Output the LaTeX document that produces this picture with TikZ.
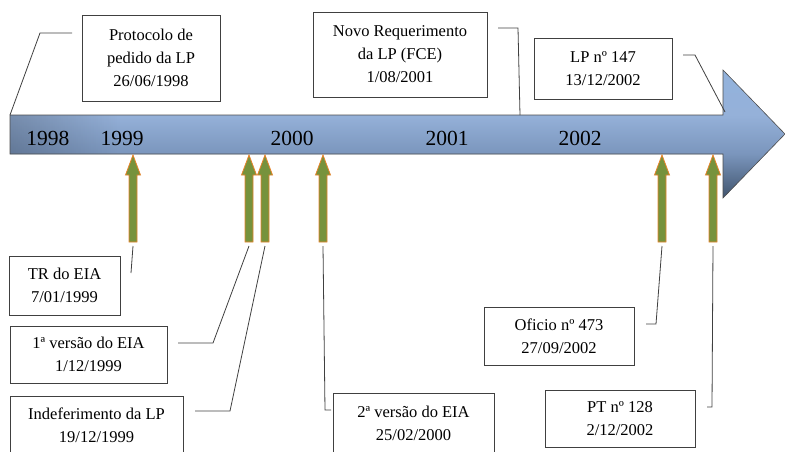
\documentclass[tikz,border=0pt]{standalone}
\usepackage{fontspec}
\setmainfont{Liberation Serif}
\usetikzlibrary{fadings}
\tikzfading[name=leftdark, left color=transparent!80, right color=transparent!100]
\begin{document}
\begin{tikzpicture}[x=1pt,y=-1pt,
  infobox/.style={draw=black!75,line width=0.9pt,fill=white,align=center,
    inner sep=0pt,font=\fontsize{16.5}{23}\selectfont},
  yearlabel/.style={anchor=base,font=\fontsize{21.5}{24}\selectfont,text=black},
  leader/.style={draw=black!75,line width=0.8pt},
  marker/.style={fill=mgreen,draw=morange,line width=0.8pt,line join=miter}]
\definecolor{mgreen}{HTML}{76923C}
\definecolor{morange}{HTML}{E8832A}
\definecolor{ca}{HTML}{92B2DC}
\definecolor{cb}{HTML}{95B1D9}
\definecolor{cc}{HTML}{7A95BC}
\definecolor{cd}{HTML}{3F536C}
\useasboundingbox (0,0) rectangle (785,451);

% main time arrow: banded vertical gradient clipped to the arrow outline
\def\arrowshape{(10,115) -- (723,115) -- (723,70) -- (785,134) -- (723,198) -- (723,154) -- (10,154) -- cycle}
\begin{scope}
  \clip \arrowshape;
  \shade[top color=ca,bottom color=cb] (0,69) rectangle (786,115.5);
  \shade[top color=cb,bottom color=cc] (0,115) rectangle (786,154.5);
  \shade[top color=cc,bottom color=cd] (0,154) rectangle (786,199);
  \fill[black,path fading=leftdark] (10,115) rectangle (120,154);
\end{scope}
\draw[black!70,line width=0.6pt,line join=miter] \arrowshape;

% years along the arrow
\node[yearlabel] (y1998) at (48,145) {1998};
\node[yearlabel] (y1999) at (122,145) {1999};
\node[yearlabel] (y2000) at (292,145) {2000};
\node[yearlabel] (y2001) at (447,145) {2001};
\node[yearlabel] (y2002) at (580,145) {2002};

% event markers below the arrow
\foreach \x/\n in {133/g1,249/g2,265/g3,323/g4,662/g5,713/g6}{
  \path[marker] (\x,155) -- (\x+7.5,175) -- (\x+4,175) -- (\x+4,242)
    -- (\x-4,242) -- (\x-4,175) -- (\x-7.5,175) -- cycle;
  \coordinate (\n) at (\x,246);
}

% event boxes
\node[infobox,minimum width=138,minimum height=86] (b1) at (151,58)
  {Protocolo de\\pedido da LP\\26/06/1998};
\node[infobox,minimum width=174,minimum height=85] (b2) at (400,54.5)
  {Novo Requerimento\\da LP (FCE)\\1/08/2001};
\node[infobox,minimum width=138,minimum height=61] (b3) at (603,68.5)
  {LP nº 147\\13/12/2002};
\node[infobox,minimum width=111,minimum height=59] (b4) at (64.5,285.5)
  {TR do EIA\\7/01/1999};
\node[infobox,minimum width=157,minimum height=57] (b5) at (88.5,354.5)
  {1ª versão do EIA\\1/12/1999};
\node[infobox,minimum width=173,minimum height=59] (b6) at (96.5,425.5)
  {Indeferimento da LP\\19/12/1999};
\node[infobox,minimum width=161,minimum height=60] (b7) at (413.5,423)
  {2ª versão do EIA\\25/02/2000};
\node[infobox,minimum width=150,minimum height=58] (b8) at (559,336)
  {Oficio nº 473\\27/09/2002};
\node[infobox,minimum width=150,minimum height=57] (b9) at (620,418.5)
  {PT nº 128\\2/12/2002};

% leader lines
\coordinate (l1a) at (72,33);   \coordinate (l1b) at (40,33);   \coordinate (l1c) at (10,115);
\coordinate (l2a) at (498,28);  \coordinate (l2b) at (518,28);  \coordinate (l2c) at (520,115);
\coordinate (l3a) at (683,55);  \coordinate (l3b) at (695,55);  \coordinate (l3c) at (725,112);
\coordinate (l4a) at (131,273);
\coordinate (l5a) at (178,343); \coordinate (l5b) at (213,343);
\coordinate (l6a) at (195,411); \coordinate (l6b) at (230,411);
\coordinate (l7a) at (325,410); \coordinate (l7b) at (331,410);
\coordinate (l8a) at (656,324); \coordinate (l8b) at (646,324);
\coordinate (l9a) at (712,407); \coordinate (l9b) at (707,407);

\draw[leader] (l1a) -- (l1b) -- (l1c);
\draw[leader] (l2a) -- (l2b) -- (l2c);
\draw[leader] (l3a) -- (l3b) -- (l3c);
\draw[leader] (g1) -- (l4a);
\draw[leader] (l5a) -- (l5b) -- (g2);
\draw[leader] (l6a) -- (l6b) -- (g3);
\draw[leader] (g4) -- (l7a) -- (l7b);
\draw[leader] (g5) -- (l8a) -- (l8b);
\draw[leader] (g6) -- (l9a) -- (l9b);
\end{tikzpicture}
\end{document}
